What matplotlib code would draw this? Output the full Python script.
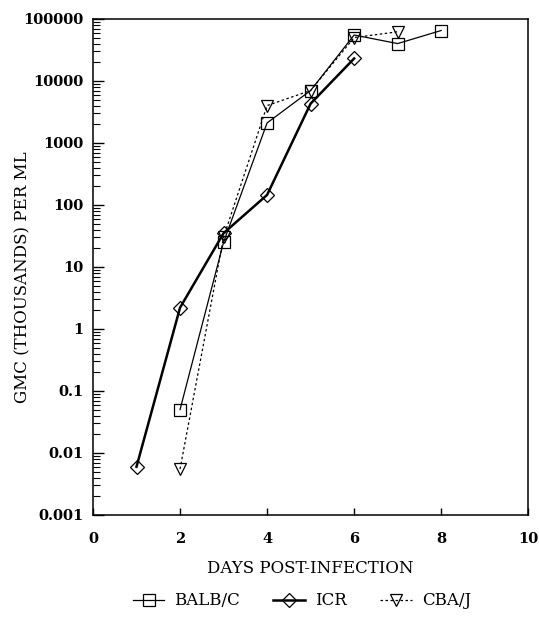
import matplotlib
matplotlib.use("Agg")
import matplotlib.pyplot as plt
from matplotlib.ticker import LogLocator, FixedLocator, NullFormatter
from matplotlib.lines import Line2D

plt.rcParams['font.family'] = ['DejaVu Serif']

balb_days = [2, 3, 4, 5, 6, 7, 8]
balb_vals = [0.05, 25, 2100, 7000, 55000, 40000, 65000]
icr_days = [1, 2, 3, 4, 5, 6]
icr_vals = [0.006, 2.2, 35, 145, 4300, 23000]
cba_days = [2, 3, 4, 5, 6, 7]
cba_vals = [0.0055, 30, 4000, 7000, 50000, 62000]

ytick_vals = [0.001, 0.01, 0.1, 1, 10, 100, 1000, 10000, 100000]
ytick_labels = ['0.001', '0.01', '0.1', '1', '10', '100', '1000', '10000', '100000']
xtick_vals = [0, 2, 4, 6, 8, 10]

fig = plt.figure(figsize=(5.39, 6.24), dpi=100)
ax = fig.add_axes([0.1725, 0.1747, 0.8075, 0.795])

ax.plot(balb_days, balb_vals, color='black', lw=0.9, marker='s', ms=8,
        mfc='none', mec='black', mew=0.9, label='BALB/C')
ax.plot(icr_days, icr_vals, color='black', lw=1.8, marker='D', ms=7,
        mfc='none', mec='black', mew=0.9, label='ICR')
ax.plot(cba_days, cba_vals, color='black', lw=0.9, ls=(0, (2, 2)), marker='v', ms=9,
        mfc='none', mec='black', mew=0.9, label='CBA/J')

ax.set_yscale('log')
ax.set_ylim(0.001, 100000)
ax.set_xlim(0, 10)
ax.yaxis.set_major_locator(FixedLocator(ytick_vals))
ax.set_yticklabels(ytick_labels)
ax.yaxis.set_minor_locator(LogLocator(base=10, subs=range(2, 10), numticks=20))
ax.yaxis.set_minor_formatter(NullFormatter())
ax.set_xticks(xtick_vals)
ax.set_xticklabels([str(v) for v in xtick_vals])

ax.tick_params(axis='y', which='major', direction='in', length=8, width=1, labelsize=10.5, pad=7)
ax.tick_params(axis='y', which='minor', direction='in', length=5, width=0.8)
ax.tick_params(axis='x', which='major', direction='in', length=5, width=1, labelsize=10.5, pad=12)
for lbl in ax.get_xticklabels() + ax.get_yticklabels():
    lbl.set_fontweight('bold')

for s in ax.spines.values():
    s.set_linewidth(1.1)

ax.set_ylabel('GMC (THOUSANDS) PER ML', fontsize=12)
ax.yaxis.set_label_coords(-0.142, 0.48)
ax.set_xlabel('DAYS POST-INFECTION', fontsize=12, labelpad=10)

handles = [
    Line2D([], [], color='black', lw=0.9, marker='s', ms=8, mfc='none', mec='black', mew=0.9),
    Line2D([], [], color='black', lw=1.8, marker='D', ms=7, mfc='none', mec='black', mew=0.9),
    Line2D([], [], color='black', lw=0.9, ls=(0, (2, 2)), marker='v', ms=9, mfc='none', mec='black', mew=0.9),
]
fig.legend(handles, ['BALB/C', 'ICR', 'CBA/J'], loc='center', bbox_to_anchor=(0.56, 0.037),
           ncol=3, frameon=False, fontsize=12, handlelength=1.9, columnspacing=2.0,
           handletextpad=0.6)

fig.savefig('out.png', dpi=100)
